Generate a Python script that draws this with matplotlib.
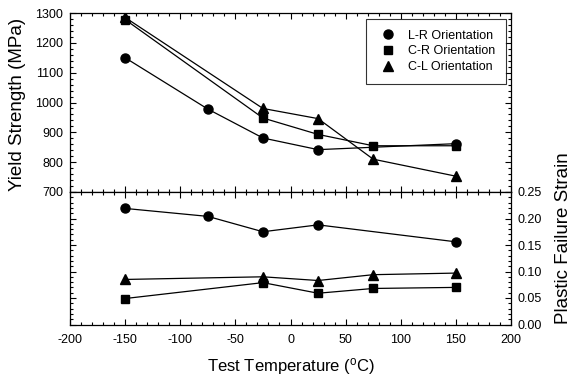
import matplotlib
matplotlib.use("Agg")
import matplotlib.pyplot as plt
from matplotlib.ticker import MultipleLocator

plt.rcParams['font.family'] = ['Liberation Sans', 'DejaVu Sans']
plt.rcParams['mathtext.default'] = 'regular'
plt.rcParams['axes.unicode_minus'] = False

# yield strength (MPa)
temp_lr = [-150, -75, -25, 25, 150]
ys_lr = [1150, 978, 881, 842, 862]
temp_cr = [-150, -25, 25, 75, 150]
ys_cr = [1278, 948, 893, 855, 855]
temp_cl = [-150, -25, 25, 75, 150]
ys_cl = [1285, 980, 946, 810, 753]

# plastic failure strain
strain_lr = [0.219, 0.204, 0.175, 0.188, 0.156]
strain_cr = [0.049, 0.079, 0.059, 0.068, 0.070]
strain_cl = [0.085, 0.090, 0.083, 0.094, 0.097]

labels = ['L-R Orientation', 'C-R Orientation', 'C-L Orientation']

fig = plt.figure(figsize=(5.71, 3.78), dpi=100)
left, right = 70 / 571, 511 / 571
top_y, mid_y, bot_y = 1 - 13 / 378, 1 - 192 / 378, 1 - 324.5 / 378
ax1 = fig.add_axes([left, mid_y, right - left, top_y - mid_y])
ax2 = fig.add_axes([left, bot_y, right - left, mid_y - bot_y])

lw = 0.9
ax1.plot(temp_lr, ys_lr, 'k-', marker='o', ms=6.5, lw=lw, label=labels[0])
ax1.plot(temp_cr, ys_cr, 'k-', marker='s', ms=5.5, lw=lw, label=labels[1])
ax1.plot(temp_cl, ys_cl, 'k-', marker='^', ms=6.5, lw=lw, label=labels[2])

ax2.plot(temp_lr, strain_lr, 'k-', marker='o', ms=6.5, lw=lw)
ax2.plot(temp_cr, strain_cr, 'k-', marker='s', ms=5.5, lw=lw)
ax2.plot(temp_cl, strain_cl, 'k-', marker='^', ms=6.5, lw=lw)

for ax in (ax1, ax2):
    ax.set_xlim(-200, 200)
    ax.xaxis.set_major_locator(MultipleLocator(50))
    ax.xaxis.set_minor_locator(MultipleLocator(10))
    ax.tick_params(which='both', direction='in', top=True, bottom=True,
                   left=True, right=True, width=0.8, labelsize=9)
    ax.tick_params(which='major', length=4)
    ax.tick_params(which='minor', length=2.5)
    ax.tick_params(axis='x', pad=7)
    ax.tick_params(axis='y', pad=5)
    for s in ax.spines.values():
        s.set_linewidth(0.9)

ax1.set_ylim(700, 1300)
ax1.yaxis.set_major_locator(MultipleLocator(100))
ax1.yaxis.set_minor_locator(MultipleLocator(20))
ax1.tick_params(labelbottom=False)

ax2.set_ylim(0, 0.25)
ax2.yaxis.set_major_locator(MultipleLocator(0.05))
ax2.yaxis.set_minor_locator(MultipleLocator(0.01))
ax2.yaxis.set_major_formatter(lambda v, p: f'{v:.2f}')
ax2.tick_params(labelleft=False, labelright=True)
ax2.set_xlabel('Test Temperature ($^{o}$C)', fontsize=12, labelpad=7)

fig.text(18 / 571, 1 - 104 / 378, 'Yield Strength (MPa)', rotation=90,
         ha='center', va='center', fontsize=13.5)
fig.text(563 / 571, 1 - 238 / 378, 'Plastic Failure Strain', rotation=90,
         ha='center', va='center', fontsize=13.5)

leg = ax1.legend(loc='upper right', bbox_to_anchor=(0.9887, 0.966),
                 fontsize=9, frameon=True, fancybox=False, edgecolor='black',
                 handlelength=1.9, handletextpad=0.65, borderpad=0.85,
                 labelspacing=0.3, numpoints=1, borderaxespad=0)
for line in leg.get_lines():
    line.set_linestyle('none')
leg.get_frame().set_linewidth(0.8)

fig.savefig('out.png', dpi=100)
